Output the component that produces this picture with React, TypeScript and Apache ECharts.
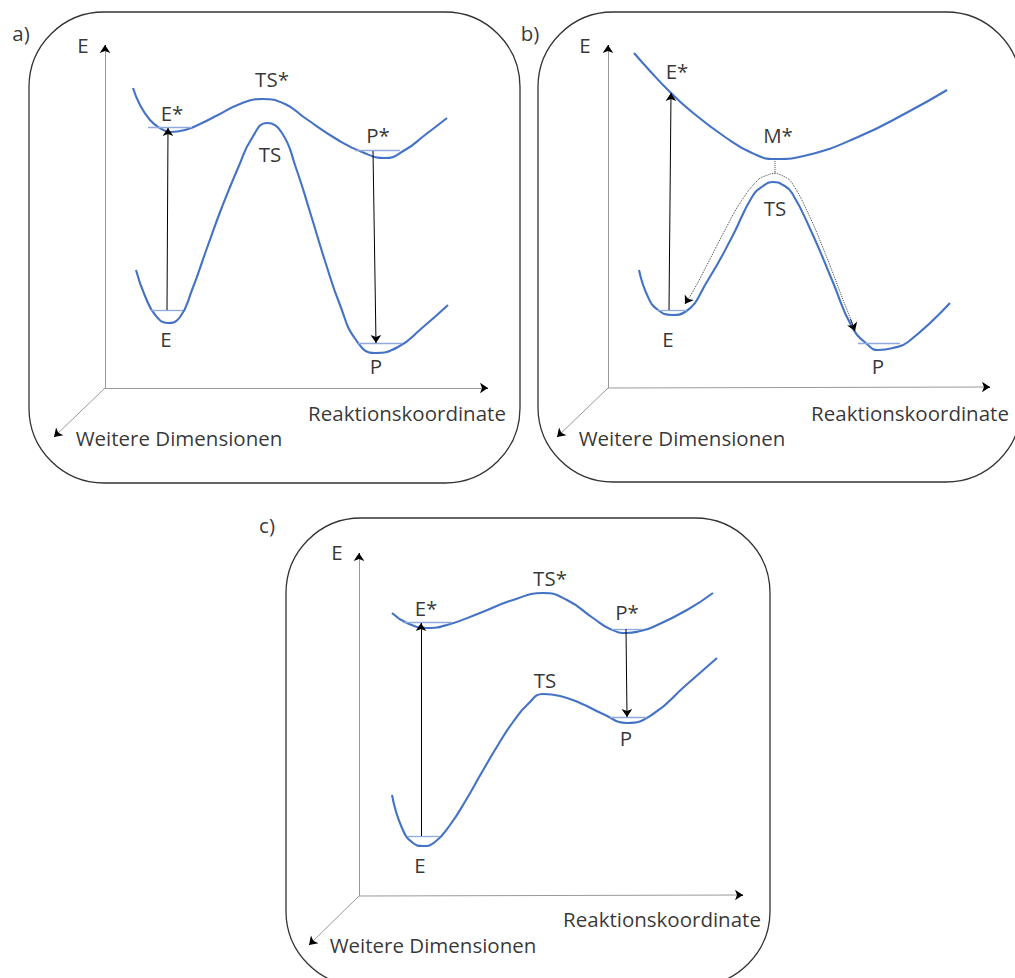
import React, { useEffect, useRef } from "react";
import * as echarts from "echarts";

type P = [number, number];

// ---------- Panel a ----------
const aUpper: P[] = [[133,88],[140,105],[150,120],[160,128],[170,132],[185,130],[200,124],[218,115],[240,104],[262,99],[285,104],[305,118],[338,140],[362,152],[385,158],[405,150],[425,135],[447,118]];
const aLower: P[] = [[136,270],[145,296],[156,316],[168,323],[180,317],[192,290],[207,248],[222,207],[238,168],[252,138],[267,123],[282,133],[296,168],[310,212],[325,261],[340,305],[356,340],[375,353],[398,347],[422,328],[448,305]];
const aLevels: P[][] = [[[148,127],[192,127]],[[151,310],[183,310]],[[355,150],[400,150]],[[358,343],[402,343]]];
const aArrows: P[][] = [[[167,310],[168,128]],[[373,151],[376,343]]];
const aAxes: P[][] = [[[105,388],[105,45]],[[105,388],[488,388]],[[105,388],[54,437]]];

// ---------- Panel b ----------
const bUpper: P[] = [[634,53],[650,71],[668,90],[692,112],[725,137],[752,153],[775,159],[808,155],[858,137],[908,112],[947,90]];
const bLower: P[] = [[639,270],[648,297],[658,310],[672,315],[685,312],[708,280],[732,237],[752,197],[763,186],[773,182],[783,185],[792,193],[812,233],[832,280],[852,327],[868,345],[878,350],[893,348],[908,342],[950,303]];
const bDotLeft: P[] = [[775,173],[765,176],[758,180],[742,200],[725,230],[708,263],[692,293],[685,303]];
const bDotRight: P[] = [[775,173],[785,177],[792,183],[808,213],[825,253],[842,297],[855,330]];
const bDotVertical: P[] = [[775,159],[775,173]];
const bLevels: P[][] = [[[657,310],[687,310]],[[858,343],[900,343]]];
const bArrows: P[][] = [[[669,310],[671,93]]];
const bDotTips: P[][] = [[[692,293],[685,304]],[[842,297],[855,331]]];
const bAxes: P[][] = [[[608,388],[608,45]],[[608,388],[990,387]],[[608,388],[557,437]]];

// ---------- Panel c ----------
const cUpper: P[] = [[392,613],[407,623],[427,628],[447,625],[480,613],[513,600],[543,593],[567,600],[593,618],[610,629],[627,633],[640,631],[653,627],[687,610],[713,593]];
const cLower: P[] = [[392,795],[402,828],[413,843],[423,846],[435,842],[450,825],[466,800],[482,772],[498,745],[513,722],[528,704],[543,694],[560,696],[580,703],[603,714],[627,723],[653,714],[685,686],[717,658]];
const cLevels: P[][] = [[[403,622],[452,622]],[[612,629],[642,629]],[[610,717],[647,717]],[[408,836],[440,836]]];
const cArrows: P[][] = [[[421,836],[421,623]],[[626,629],[627,717]]];
const cAxes: P[][] = [[[359,896],[359,553]],[[359,896],[743,895]],[[359,896],[309,945]]];

// ---------- Labels ----------
const labelTexts: string[] = [
  "a)", "E", "TS*", "E*", "TS", "P*", "E", "P", "Reaktionskoordinate", "Weitere Dimensionen",
  "b)", "E", "E*", "M*", "TS", "E", "P", "Reaktionskoordinate", "Weitere Dimensionen",
  "c)", "E", "TS*", "E*", "P*", "TS", "P", "E", "Reaktionskoordinate", "Weitere Dimensionen",
];
const labelPos: P[] = [
  [21,33],[83,45],[272,79],[172,113],[270,154],[378,135],[166,339],[376,366],[407,413],[179,438],
  [530,33],[585,45],[677,71],[778,135],[775,208],[668,339],[878,366],[910,413],[682,438],
  [267,525],[337,552],[550,578],[426,608],[627,612],[545,680],[626,738],[420,865],[662,919],[433,945],
];

// ---------- Panel frames ----------
const frames: number[][] = [[29,12,491,471],[538,12,483,470],[286,518,484,468]];

const FONT = "'Open Sans', Lato, sans-serif";
const BLUE = "#4472c4";
const LEVEL = "#8faadc";

function curve(data: P[]) {
  return {
    type: "line", data, smooth: 0.5, showSymbol: false, symbol: "none", silent: true, z: 3,
    lineStyle: { color: BLUE, width: 2.1 },
  };
}
function dotted(data: P[]) {
  return {
    type: "line", data, smooth: 0.5, showSymbol: false, symbol: "none", silent: true, z: 2,
    lineStyle: { color: "#444", width: 1, type: "dotted" },
  };
}
function segs(list: P[][], color: string, width: number, arrow: boolean, size = 8) {
  return {
    type: "lines", coordinateSystem: "cartesian2d", silent: true, z: 4,
    data: list.map((c) => ({ coords: c })),
    lineStyle: { color, width, opacity: 1, curveness: 0 },
    symbol: arrow ? ["none", "arrow"] : ["none", "none"],
    symbolSize: size,
  };
}

export default function App() {
  const ref = useRef<HTMLDivElement>(null);
  useEffect(() => {
    const chart = echarts.init(ref.current!, null, { renderer: "svg" });
    const allAxes = [...aAxes, ...bAxes, ...cAxes];
    const tipSegs: P[][] = allAxes.map(([s, e]) => {
      const dx = e[0] - s[0], dy = e[1] - s[1];
      const L = Math.hypot(dx, dy);
      return [[e[0] - (dx / L) * 6, e[1] - (dy / L) * 6], e];
    });
    const option: any = {
      animation: false,
      backgroundColor: "#ffffff",
      grid: { left: 0, right: 0, top: 0, bottom: 0 },
      xAxis: { type: "value", min: 0, max: 1015, show: false },
      yAxis: { type: "value", min: 0, max: 978, inverse: true, show: false },
      graphic: frames.map(([x, y, w, h]) => ({
        type: "rect", silent: true, z: -1,
        shape: { x, y, width: w, height: h, r: 75 },
        style: { fill: "none", stroke: "#333", lineWidth: 1.3 },
      })),
      series: [
        curve(aUpper), curve(aLower),
        curve(bUpper), curve(bLower),
        curve(cUpper), curve(cLower),
        dotted(bDotLeft), dotted(bDotRight), dotted(bDotVertical),
        segs([...aLevels, ...bLevels, ...cLevels], LEVEL, 1.3, false),
        segs([...aArrows, ...bArrows, ...cArrows], "#000", 1, true, 8),
        segs(bDotTips.map((s) => [[s[1][0] - (s[1][0] - s[0][0]) * 0.35, s[1][1] - (s[1][1] - s[0][1]) * 0.35], s[1]] as P[]), "#000", 0.8, true, 8),
        segs(allAxes, "#999", 1, false),
        segs(tipSegs, "#000", 1, true, 8),
        {
          type: "scatter", silent: true, z: 5, symbolSize: 1,
          itemStyle: { color: "rgba(0,0,0,0)" },
          data: labelTexts.map((t, i) => ({ name: t, value: labelPos[i] })),
          label: {
            show: true, position: "inside", formatter: "{b}",
            fontSize: 20.5, fontFamily: FONT, color: "#000",
          },
        },
      ],
    };
    chart.setOption(option);
    return () => chart.dispose();
  }, []);
  return <div ref={ref} style={{ position: "absolute", left: 0, top: 0, width: 1015, height: 978 }} />;
}
